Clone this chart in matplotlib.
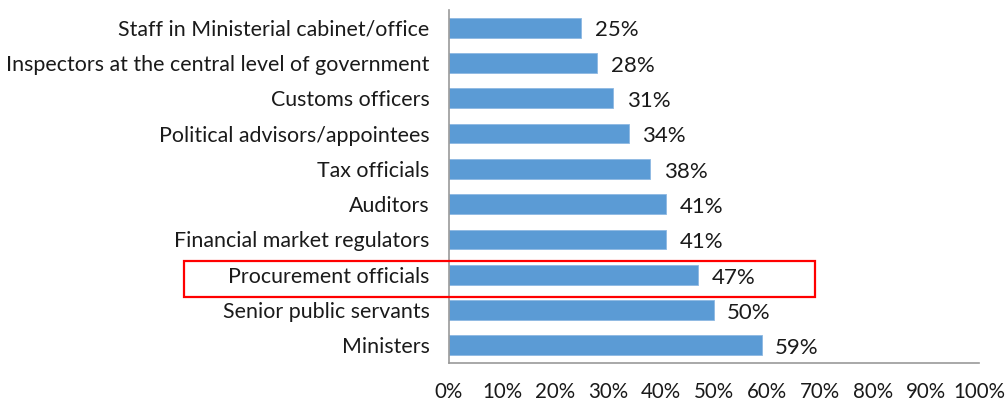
import matplotlib.pyplot as plt
import matplotlib.transforms as mtransforms
from matplotlib.patches import Rectangle

categories = ['Staff in Ministerial cabinet/office',
              'Inspectors at the central level of government',
              'Customs officers',
              'Political advisors/appointees',
              'Tax officials',
              'Auditors',
              'Financial market regulators',
              'Procurement officials',
              'Senior public servants',
              'Ministers']
values = [25, 28, 31, 34, 38, 41, 41, 47, 50, 59]
ticks = [0, 10, 20, 30, 40, 50, 60, 70, 80, 90, 100]
highlight = 'Procurement officials'

plt.rcParams['font.family'] = ['Lato', 'DejaVu Sans']

fig = plt.figure(figsize=(10.06, 4.03), dpi=100)
ax = fig.add_axes([0.4463, 0.0993, 0.5269, 0.8759])

pos = list(range(len(categories)))
ax.barh(pos, values, height=0.56, color='#5B9BD5', edgecolor='#8DB8E2', linewidth=0.6)
for p, v in zip(pos, values):
    ax.text(v + 2.5, p + 0.08, f'{v}%', va='center', ha='left', fontsize=16, color='#1a1a1a')

ax.set_xlim(0, 100)
ax.set_ylim(len(categories) - 0.5, -0.5)
ax.set_yticks(pos)
ax.set_yticklabels(categories, fontsize=15.4, color='#1a1a1a')
ax.set_xticks(ticks)
ax.set_xticklabels([f'{t}%' for t in ticks], fontsize=14.8, color='#1a1a1a')
ax.tick_params(axis='both', length=0)
ax.tick_params(axis='y', pad=14)
ax.tick_params(axis='x', pad=14)
for s in ['top', 'right']:
    ax.spines[s].set_visible(False)
for s in ['left', 'bottom']:
    ax.spines[s].set_color('#999999')
    ax.spines[s].set_linewidth(1.2)

# red box around the highlighted row
i = categories.index(highlight)
trans = mtransforms.blended_transform_factory(fig.transFigure, ax.transData)
rect = Rectangle((0.183, i + 0.62), 0.627, -1.02, transform=trans,
                 fill=False, edgecolor='#FF0000', linewidth=1.6, clip_on=False)
fig.add_artist(rect)

fig.savefig('out.png', dpi=100)
